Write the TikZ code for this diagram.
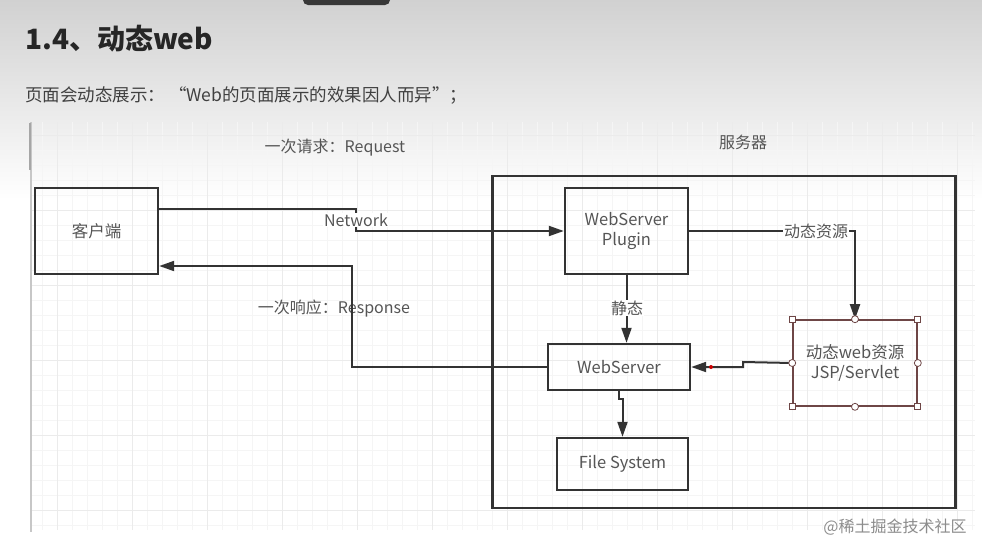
\documentclass[tikz,border=0pt]{standalone}
\usepackage{fontspec}
\setmainfont{Noto Sans CJK SC}
\usepackage{xcolor}
\usepackage{tikz}
\usetikzlibrary{arrows.meta,positioning}

\definecolor{ink}{HTML}{333333}
\definecolor{txt}{HTML}{555555}
\definecolor{handle}{HTML}{6E4646}

\tikzset{
    box/.style={draw=ink, line width=2.4pt, text=txt, align=center,
        font=\fontsize{16.5}{20}\selectfont, inner sep=0pt},
    conn/.style={draw=ink, line width=2pt},
    tip/.style={-{Triangle[length=15pt,width=10pt]}},
    lbl/.style={text=txt, font=\fontsize{16}{19}\selectfont, inner sep=1pt},
    gridminor/.style={black!4, line width=0.8pt},
    gridmajor/.style={black!8, line width=1pt},
    handlesq/.style={draw=handle, fill=white, line width=0.8pt,
        minimum size=6pt, inner sep=0pt},
    handlecirc/.style={handlesq, circle, minimum size=7pt}
}

\begin{document}
\begin{tikzpicture}[x=1pt, y=-1pt]
    \useasboundingbox (0,0) rectangle (982,544);
    \fill[white] (0,0) rectangle (982,544);
    \shade[top color=black!18, bottom color=white] (0,0) rectangle (982,200);

    % top bar
    \fill[black!78, rounded corners=5pt] (303,-10) rectangle (390,5);

    % heading
    \node[anchor=base west, text=black!85,
        font=\bfseries\fontsize{28}{32}\selectfont, inner sep=0pt] (title) at (25,49) {1.4、动态web};
    \node[anchor=base west, text=black!75,
        font=\fontsize{17.5}{21}\selectfont, inner sep=0pt] (subtitle) at (25,101)
        {页面会动态展示： “Web的页面展示的效果因人而异”；};

    % grid
    \foreach \x in {42,57,...,972}
        \draw[gridminor] (\x,122) -- (\x,530);
    \foreach \y in {135,150,...,525}
        \draw[gridminor] (31,\y) -- (975,\y);
    \foreach \x in {57,132,...,957}
        \draw[gridmajor] (\x,122) -- (\x,530);
    \foreach \y in {135,210,...,510}
        \draw[gridmajor] (31,\y) -- (975,\y);
    \draw[black!22, line width=2pt] (31,122) -- (31,532);
    \draw[black!35, line width=2pt] (30,123) -- (30,170);

    % boxes
    \node[box, minimum width=123pt, minimum height=86pt] (client) at (96.5,231) {客户端};
    \node[box, minimum width=463pt, minimum height=332pt] (server) at (724,342) {};
    \node[box, minimum width=123pt, minimum height=86pt] (plugin) at (626.5,231) {WebServer\\Plugin};
    \node[box, minimum width=142pt, minimum height=46pt] (web) at (619,367) {WebServer};
    \node[box, minimum width=131pt, minimum height=52pt] (fs) at (622.5,464) {File System};
    \node[box, draw=handle, line width=1.6pt, minimum width=124pt, minimum height=86pt]
        (dyn) at (855,363) {动态web资源\\JSP/Servlet};

    % labels
    \node[lbl] (reqlbl) at (335,148) {一次请求：Request};
    \node[lbl] (srvlbl) at (743,142) {服务器};
    \node[lbl] (reslbl) at (334,309) {一次响应：Response};

    % connectors
    \coordinate (reqa) at (356,209);
    \coordinate (reqb) at (356,231);
    \draw[conn, tip] ([yshift=22pt]client.east) -- (reqa) -- (reqb) -- (plugin.west);
    \node[lbl, fill=white] (net) at (356,220) {Network};

    \draw[conn, tip] (plugin.east) -| (dyn.north);
    \node[lbl, fill=white] (dynlbl) at (816,231) {动态资源};

    \draw[conn, tip] (plugin.south) -- (plugin.south |- web.north);
    \node[lbl, fill=white] (statlbl) at (627,308) {静态};

    \coordinate (dyna) at (743,362);
    \coordinate (dynb) at (743,367);
    \draw[conn, tip] (dyn.west) -- (dyna) -- (dynb) -- (web.east);
    \fill[red!80!black] (711,367) circle (2pt);

    \draw[conn, tip] (web.south) -- ++(0,8) -| (fs.north);

    \coordinate (resa) at (352,367);
    \coordinate (resb) at (352,266);
    \draw[conn, tip] (web.west) -- (resa) -- (resb) -- ([yshift=-35pt]client.east);

    % handles
    \foreach \a in {north west, north east, south west, south east}
        \node[handlesq] at (dyn.\a) {};
    \foreach \a in {north, south, east, west}
        \node[handlecirc] at (dyn.\a) {};

    % watermark
    \node[text=black!45, font=\fontsize{16}{18}\selectfont] (mark) at (895,527) {@稀土掘金技术社区};
\end{tikzpicture}
\end{document}
